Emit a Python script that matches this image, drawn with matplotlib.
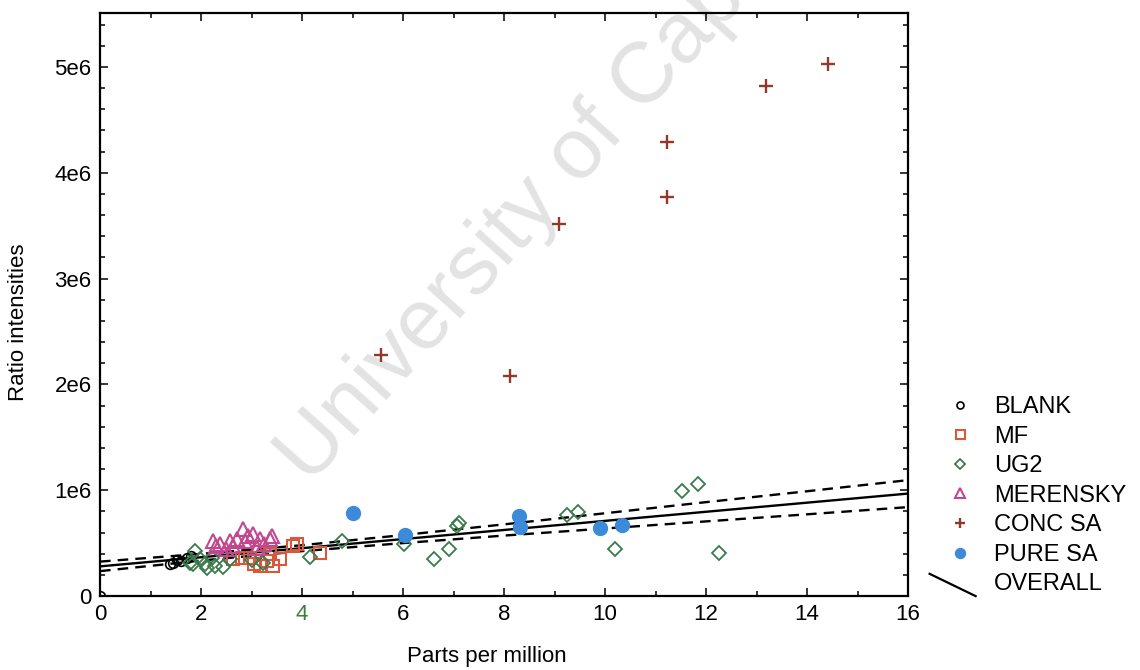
import numpy as np
import matplotlib
matplotlib.use('Agg')
import matplotlib.pyplot as plt
from matplotlib.lines import Line2D
from matplotlib.legend_handler import HandlerBase
from matplotlib.ticker import MultipleLocator, FuncFormatter

plt.rcParams['font.family'] = ['Liberation Sans', 'DejaVu Sans']

# ratio intensities are in millions (x 1e6)
blank_x = [0.0, 1.39, 1.45, 1.52, 1.60, 1.72, 1.80]
blank_y = [0.0, 0.30, 0.31, 0.34, 0.33, 0.36, 0.38]

mf_x = [2.64, 2.81, 2.97, 3.05, 3.17, 3.30, 3.37, 3.43, 3.56, 3.82, 3.90, 4.36]
mf_y = [0.35, 0.36, 0.36, 0.30, 0.28, 0.33, 0.40, 0.28, 0.35, 0.47, 0.49, 0.41]

ug2_x = [1.78, 1.84, 1.88, 1.98, 2.08, 2.12, 2.22, 2.28, 2.44, 2.57, 3.00, 3.23,
         4.16, 4.80, 6.02, 6.61, 6.91, 7.07, 7.11, 9.25, 9.46, 10.20, 11.52, 11.84, 12.26]
ug2_y = [0.31, 0.30, 0.43, 0.35, 0.30, 0.26, 0.36, 0.28, 0.27, 0.35, 0.34, 0.31,
         0.37, 0.52, 0.49, 0.35, 0.44, 0.66, 0.69, 0.77, 0.79, 0.44, 0.99, 1.06, 0.41]

mer_x = [2.24, 2.30, 2.38, 2.50, 2.57, 2.63, 2.71, 2.83, 2.87, 2.93, 3.03, 3.11, 3.17, 3.25, 3.37, 3.40]
mer_y = [0.52, 0.47, 0.49, 0.44, 0.52, 0.47, 0.54, 0.63, 0.52, 0.57, 0.59, 0.45, 0.54, 0.49, 0.54, 0.57]

conc_x = [5.56, 8.12, 9.09, 11.23, 11.23, 13.19, 14.42]
conc_y = [2.28, 2.08, 3.52, 4.29, 3.77, 4.82, 5.03]

pure_x = [5.01, 6.04, 8.30, 8.32, 9.90, 10.34]
pure_y = [0.78, 0.58, 0.76, 0.65, 0.64, 0.67]

# overall regression line with its confidence band
fit_x = [0, 2, 4, 6, 8, 10, 12, 14, 16]
fit_y = [0.28, 0.366, 0.452, 0.538, 0.624, 0.71, 0.796, 0.882, 0.968]
band_hi = [0.325, 0.398, 0.48, 0.576, 0.677, 0.782, 0.887, 0.99, 1.095]
band_lo = [0.235, 0.335, 0.424, 0.50, 0.571, 0.638, 0.705, 0.772, 0.84]

M = 1e6


def mil(v):
    return np.array(v) * M


class DiagonalHandler(HandlerBase):
    # legend key for OVERALL is a short line sloping down
    def create_artists(self, legend, orig_handle, xdescent, ydescent,
                       width, height, fontsize, trans):
        x0 = -xdescent - 0.35 * width
        x1 = -xdescent + 0.95 * width
        y0 = -ydescent + 1.0 * height
        y1 = -ydescent - 0.35 * height
        ln = Line2D([x0, x1], [y0, y1], color='black', lw=1.6, transform=trans)
        return [ln]


fig = plt.figure(figsize=(11.4, 6.7), dpi=100)
ax = fig.add_axes([100 / 1140, 1 - 596 / 670, 808 / 1140, 583 / 670])

# faint watermark behind the data
ax.text(0.272, 0.275, 'University of Cape Town', transform=fig.transFigure,
        rotation=48, rotation_mode='anchor', ha='left', va='baseline',
        fontsize=62, color='#e3e3e3', zorder=1, clip_on=False)

ax.plot(fit_x, mil(fit_y), color='black', lw=1.7, zorder=3)
ax.plot(fit_x, mil(band_hi), color='black', lw=1.7, ls=(0, (4.5, 3)), zorder=3)
ax.plot(fit_x, mil(band_lo), color='black', lw=1.7, ls=(0, (4.5, 3)), zorder=3)

h_blank, = ax.plot(blank_x, mil(blank_y), 'o', ms=7, mfc='none', mec='black', mew=1.2, zorder=4)
h_mf, = ax.plot(mf_x, mil(mf_y), 's', ms=9, mfc='none', mec='#d8583c', mew=1.5, zorder=4)
h_ug2, = ax.plot(ug2_x, mil(ug2_y), 'D', ms=7, mfc='none', mec='#3b7a4c', mew=1.3, zorder=4)
h_mer, = ax.plot(mer_x, mil(mer_y), '^', ms=9.5, mfc='none', mec='#c2478e', mew=1.5, zorder=4)
h_conc, = ax.plot(conc_x, mil(conc_y), '+', ms=10, mec='#93392c', mew=1.7, zorder=4)
h_pure, = ax.plot(pure_x, mil(pure_y), 'o', ms=10, mfc='#3d8ad8', mec='#3d8ad8', zorder=5)
h_all = Line2D([], [], color='black')

ax.set_xlim(0, 16)
ax.set_ylim(0, 5.51 * M)
ax.set_xticks(range(0, 17, 2))
ax.set_yticks(mil([0, 1, 2, 3, 4, 5]))
ax.xaxis.set_minor_locator(MultipleLocator(1))
ax.yaxis.set_minor_locator(MultipleLocator(0.2 * M))
ax.yaxis.set_major_formatter(FuncFormatter(lambda v, p: '0' if v == 0 else '%de6' % round(v / M)))
ax.tick_params(which='both', direction='in', top=True, right=True, labelsize=16, width=1.1)
ax.tick_params(which='major', length=6, pad=6)
ax.tick_params(which='minor', length=3.5)
ax.xaxis.get_major_ticks()[2].label1.set_color('#3f7d3f')
for s in ax.spines.values():
    s.set_linewidth(1.6)

ax.set_xlabel('Parts per million', fontsize=16)
ax.set_ylabel('Ratio intensities', fontsize=16)
ax.xaxis.set_label_coords(0.479, -0.085)
ax.yaxis.set_label_coords(-0.088, 0.47)

leg = ax.legend([h_blank, h_mf, h_ug2, h_mer, h_conc, h_pure, h_all],
                ['BLANK', 'MF', 'UG2', 'MERENSKY', 'CONC SA', 'PURE SA', 'OVERALL'],
                handler_map={h_all: DiagonalHandler()},
                loc='upper left', bbox_to_anchor=(942 / 1140, 1 - 396 / 670),
                bbox_transform=fig.transFigure, frameon=False, fontsize=17,
                markerscale=0.72, handlelength=1.5, handletextpad=0.7,
                labelspacing=0.32, borderaxespad=0, borderpad=0)

fig.savefig('out.png', dpi=100)
